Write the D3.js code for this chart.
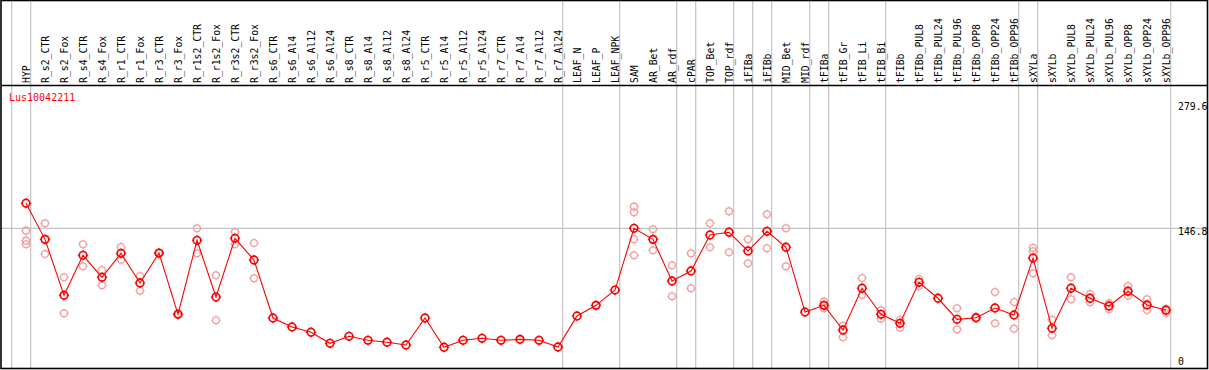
<!DOCTYPE html>
<html><head><meta charset="utf-8">
<script src="https://cdn.jsdelivr.net/npm/d3@7"></script>
<style>
html,body{margin:0;padding:0;background:#fff;}
svg{display:block;}
text{font-family:"DejaVu Sans Mono",monospace;font-size:9.8px;}
</style></head>
<body><svg id="c" width="1209" height="370"></svg>
<script>
const categories = ["HYP","R_s2_CTR","R_s2_Fox","R_s4_CTR","R_s4_Fox","R_r1_CTR","R_r1_Fox","R_r3_CTR","R_r3_Fox","R_r1s2_CTR","R_r1s2_Fox","R_r3s2_CTR","R_r3s2_Fox","R_s6_CTR","R_s6_Al4","R_s6_Al12","R_s6_Al24","R_s8_CTR","R_s8_Al4","R_s8_Al12","R_s8_Al24","R_r5_CTR","R_r5_Al4","R_r5_Al12","R_r5_Al24","R_r7_CTR","R_r7_Al4","R_r7_Al12","R_r7_Al24","LEAF_N","LEAF_P","LEAF_NPK","SAM","AR_Bet","AR_rdf","cPAR","TOP_Bet","TOP_rdf","iFIBa","iFIBb","MID_Bet","MID_rdf","tFIBa","tFIB_Gr","tFIB_Li","tFIB_Bi","tFIBb","tFIBb_PUL8","tFIBb_PUL24","tFIBb_PUL96","tFIBb_OPP8","tFIBb_OPP24","tFIBb_OPP96","sXYLa","sXYLb","sXYLb_PUL8","sXYLb_PUL24","sXYLb_PUL96","sXYLb_OPP8","sXYLb_OPP24","sXYLb_OPP96"];
const meanValues = [173.4,135.2,75.9,118.3,95.0,120.4,89.0,120.7,55.8,134.2,74.1,136.3,113.3,51.9,42.4,36.8,25.1,32.5,28.3,26.2,23.3,51.9,20.9,28.3,30.4,28.3,29.3,28.3,21.2,54.0,65.3,81.5,146.9,135.2,91.1,101.7,139.8,142.7,122.9,143.7,126.8,58.2,65.3,39.2,83.4,55.8,46.3,89.7,72.8,50.5,52.2,62.5,55.1,115.4,41.0,83.4,72.8,64.6,80.2,65.7,60.1];
const replicateValues = [[144.4,133.8,130.0],[152.2,119.7],[95.0,56.9],[130.0,106.6],[102.7,86.5],[127.1,113.6],[96.4,80.8],[121.0,120.2],[56.3,55.4],[146.9,120.4],[97.1,49.5],[143.0,130.0],[131.3,93.9],[],[],[],[],[],[],[],[],[],[],[],[],[],[],[],[],[],[],[],[169.8,163.8,135.2,118.3],[145.8,123.6],[107.7,74.9],[120.4,83.4],[152.2,126.8],[164.9,121.5],[135.2,109.8],[161.7,125.7],[146.9,106.6],[],[69.2,62.2],[43.7,31.5],[94.3,76.3],[60.1,51.2],[49.8,41.6],[93.2,85.8],[],[62.2,39.9],[52.6,51.8],[79.4,46.3],[68.8,40.6],[126.3,122.5,99.2],[50.1,33.6],[95.0,71.7],[77.3,68.5],[67.5,61.1],[85.8,75.5],[71.7,60.4],[61.7,57.2]];
const groupEnds = ["HYP","R_r7_Al24","LEAF_NPK","AR_rdf","cPAR","TOP_rdf","iFIBa","iFIBb","MID_rdf","tFIBa","tFIB_Bi","tFIBb_OPP96","sXYLa","sXYLb_OPP96"];
const axisTicks = [279.6,146.8,0];
const geneName = "Lus10042211";

const svg = d3.select("#c");
const W = 1209, H = 370;
const x = d3.scalePoint().domain(categories).range([26, 1166]);
const y = d3.scaleLinear().domain([0, 279.6]).range([367, 103]);
const step = x.step();

// gray separators
const seps = [x(categories[0]) - step].concat(groupEnds.map(c => x(c)));
svg.selectAll("line.sep").data(seps).join("line")
  .attr("x1", d => d + 4.7).attr("x2", d => d + 4.7)
  .attr("y1", 1).attr("y2", H - 2)
  .attr("stroke", "#c4c4c4").attr("stroke-width", 1.2);

// horizontal gridline at middle tick
svg.append("line").attr("x1", 1).attr("x2", W - 1)
  .attr("y1", y(axisTicks[1])).attr("y2", y(axisTicks[1]))
  .attr("stroke", "#c4c4c4").attr("stroke-width", 1.2);

// header separator
svg.append("line").attr("x1", 1).attr("x2", W - 1).attr("y1", 85.5).attr("y2", 85.5)
  .attr("stroke", "#000").attr("stroke-width", 1.5);

// frame
svg.append("rect").attr("x", 1).attr("y", 0.5).attr("width", W - 2.5).attr("height", H - 2)
  .attr("fill", "none").attr("stroke", "#000").attr("stroke-width", 1.6);

// column labels
svg.selectAll("text.cat").data(categories).join("text")
  .attr("class", "cat")
  .attr("transform", d => `translate(${x(d) + 3.6},83) rotate(-90)`)
  .attr("fill", "#000")
  .text(d => d);

// right axis labels
const tickOffsets = [4, 4, -5];
svg.selectAll("text.tk").data(axisTicks).join("text")
  .attr("x", 1178).attr("y", (d, i) => y(d) + tickOffsets[i])
  .attr("dominant-baseline", "middle")
  .attr("fill", "#000").text(d => d === 0 ? "0" : d.toFixed(1));

// gene name
svg.append("text").attr("x", 9).attr("y", 97.5).attr("dominant-baseline", "middle")
  .attr("fill", "#ff0000").style("font-size", "10px").text(geneName);

function marker(g, cx, cy, r, color, sw) {
  g.append("circle").attr("cx", cx).attr("cy", cy).attr("r", r)
    .attr("fill", "none").attr("stroke", color).attr("stroke-width", sw);
  const t = r + 1.4, s = r - 0.4;
  g.append("path")
    .attr("d", `M${cx},${cy - t}V${cy - s}M${cx},${cy + s}V${cy + t}M${cx - t},${cy}H${cx - s}M${cx + s},${cy}H${cx + t}`)
    .attr("stroke", color).attr("stroke-width", 1);
}

// replicates
const repG = svg.append("g");
categories.forEach((c, i) => {
  replicateValues[i].forEach(v => marker(repG, x(c), y(v), 3.4, "#f0a0a0", 1.3));
});

// mean line
const pts = categories.map((c, i) => [x(c), y(meanValues[i])]);
svg.append("path").attr("d", d3.line()(pts)).attr("fill", "none")
  .attr("stroke", "#ff0000").attr("stroke-width", 1.1);

// mean markers
const mg = svg.append("g");
pts.forEach(p => marker(mg, p[0], p[1], 3.8, "#ff0000", 1.7));
</script>
</body></html>
